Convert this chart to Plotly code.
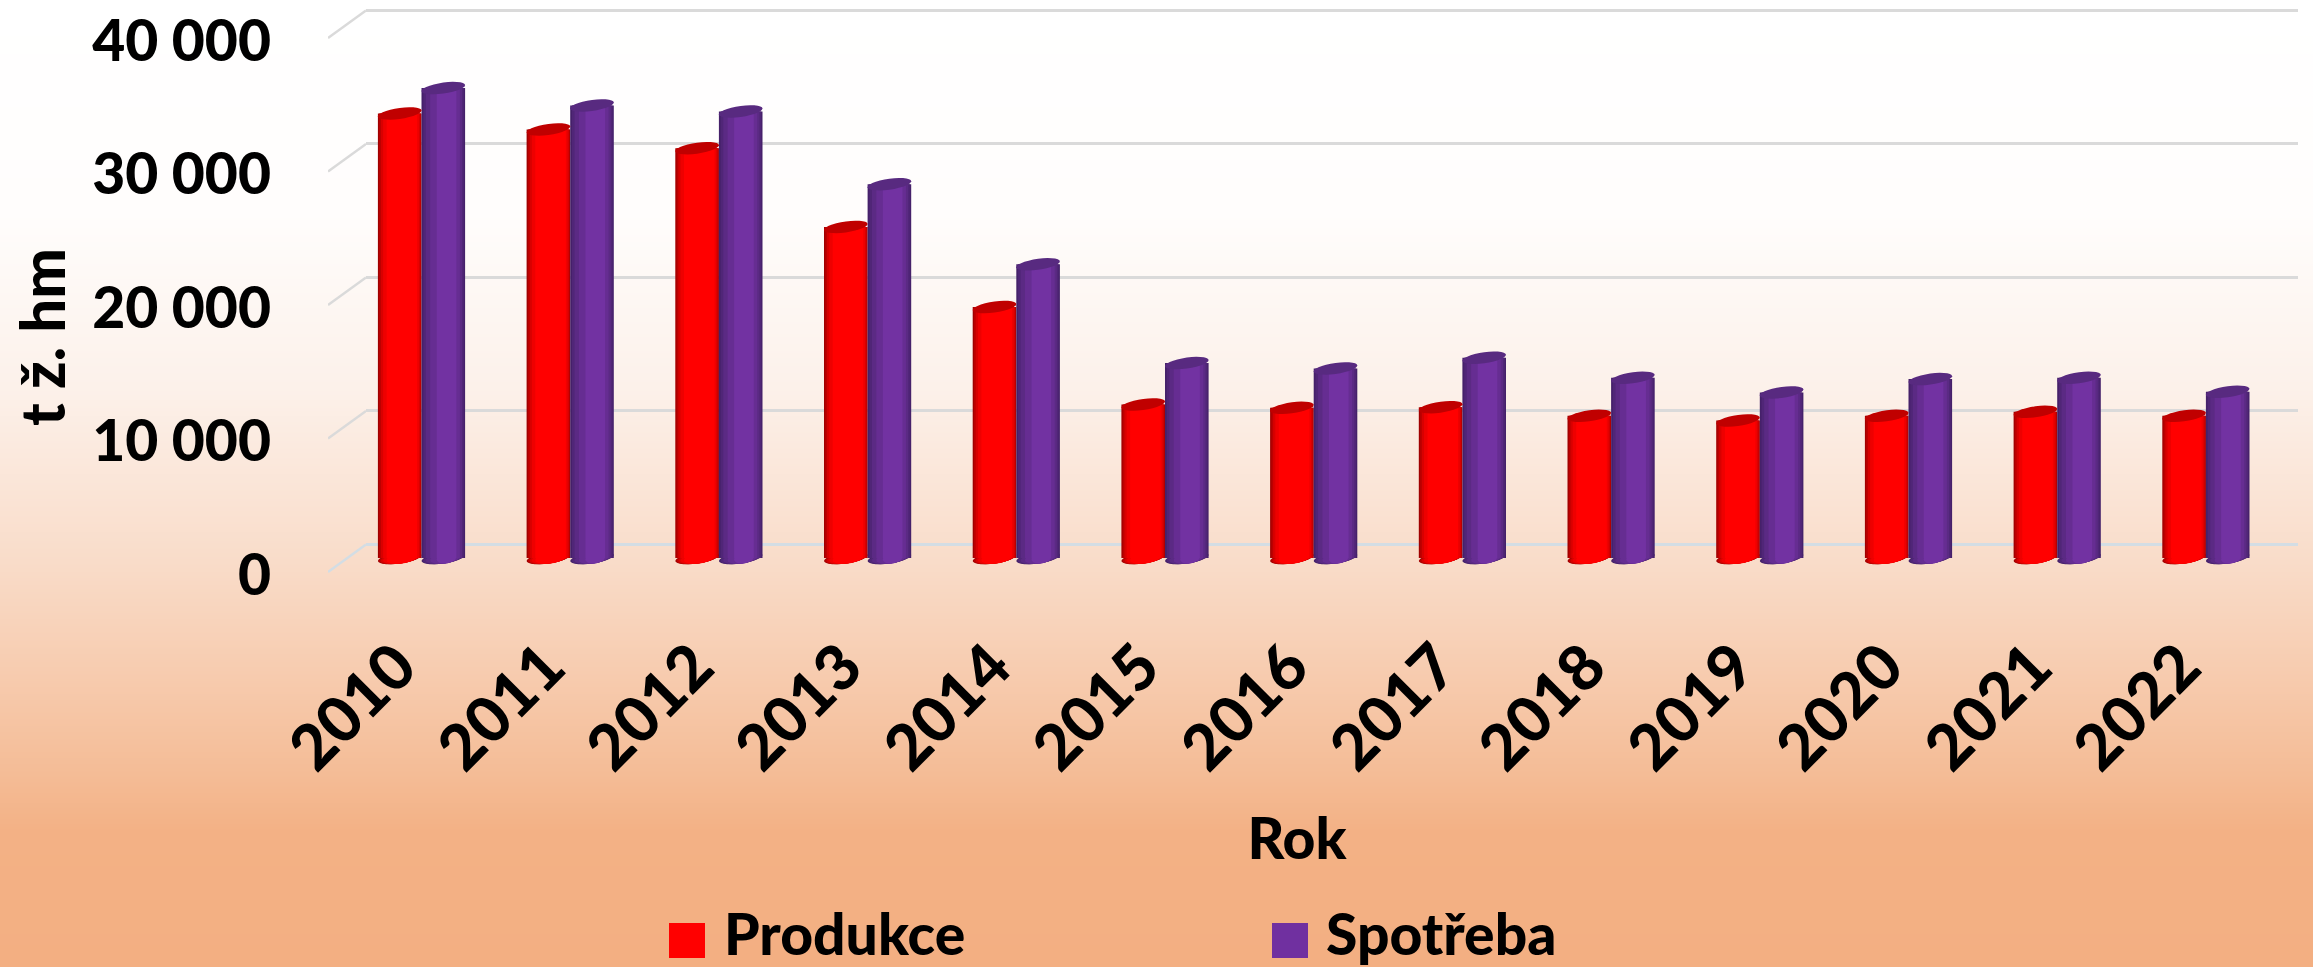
import math
import plotly.graph_objects as go

years = ["2010","2011","2012","2013","2014","2015","2016","2017","2018","2019","2020","2021","2022"]
produkce = [33300,32100,30700,24800,18800,11500,11250,11300,10650,10300,10650,10950,10650]
spotreba = [35200,33900,33450,28000,22000,14600,14200,15000,13500,12400,13400,13500,12450]
y_ticks = [0,10000,20000,30000,40000]
y_tick_labels = ["0","10 000","20 000","30 000","40 000"]

W, H = 2313, 967
FONT = "Lato"
WEIGHT = 900
BLACK = "#000000"
STEP = 148.7          # px per category
X0 = 421.5            # px of first category
BAR = 43.6 / STEP     # bar width in category units
DEPTH = 2060          # value equivalent of the floor depth
PX_PER_UNIT = 534/40000

RED_LAYERS = [(0,1,"#A00000"),(.03,.99,"#BC0000"),(.07,.97,"#D80000"),(.12,.94,"#EE0000"),(.2,.9,"#FF0000")]
PUR_LAYERS = [(0,1,"#45216A"),(.04,.97,"#502677"),(.1,.93,"#5B2A84"),(.2,.88,"#662D92"),(.35,.8,"#7232A2")]
RED_TOP, PUR_TOP = "#C00000", "#582A80"
GRID = "#DADADA"
ZERO = "#D3DDE4"

def dom_y(top_px, bottom_px):
    return [(H-bottom_px)/H, (H-top_px)/H]

def ellipse_path(rx, ry=5.5, tilt=3.0, n=28):
    pts = []
    for k in range(n):
        t = 2*math.pi*k/n
        pts.append((rx*math.cos(t), ry*math.sin(t)+tilt/22*rx*math.cos(t)))
    return "M " + " L ".join(f"{a:.2f},{b:.2f}" for a,b in pts) + " Z"

fig = go.Figure()

# background gradient (z runs 0 at the top of the page to 1 at the bottom)
fig.add_trace(go.Heatmap(
    z=[[0,0],[1,1]], x=[0,1], y=[0,1], xaxis="x", yaxis="y", zsmooth="best", showscale=False, hoverinfo="skip",
    zmin=0, zmax=1,
    colorscale=[[0,"#FFFFFF"],[.22,"#FFFDFC"],[.4,"#FCF1EA"],[.58,"#F9DCC9"],[.7,"#F7CBAE"],[.8,"#F4BC96"],[.86,"#F3B185"],[1,"#F3AF82"]],
))

# cylinders (nested bars give the shading)
idx = list(range(len(years)))
shapes = []
for name, vals, layers, top, start in [("Produkce",produkce,RED_LAYERS,RED_TOP,-BAR),("Spotřeba",spotreba,PUR_LAYERS,PUR_TOP,0)]:
    for j,(lo,hi,col) in enumerate(layers):
        fig.add_trace(go.Bar(
            x=idx, y=vals, name=name, xaxis="x3", yaxis="y3", showlegend=False,
            offset=start+lo*BAR, width=(hi-lo)*BAR, marker=dict(color=col, line=dict(width=0)),
        ))
    for i,v in enumerate(vals):
        for lo,hi,col in layers:
            shapes.append(dict(type="path", layer="between", xref="x3", yref="y3", xsizemode="pixel", ysizemode="pixel",
                               xanchor=i+start+(lo+hi)/2*BAR, yanchor=0,
                               path=ellipse_path((hi-lo)*BAR*STEP/2), fillcolor=col, line=dict(width=0)))
        shapes.append(dict(type="path", layer="above", xref="x3", yref="y3", xsizemode="pixel", ysizemode="pixel",
                           xanchor=i+start+BAR/2, yanchor=v,
                           path=ellipse_path(BAR*STEP/2), fillcolor=top, line=dict(width=0)))

# floor/wall connectors
for t in y_ticks:
    fig.add_trace(go.Scatter(x=[0,1], y=[t,t+DEPTH], xaxis="x4", yaxis="y4", mode="lines", showlegend=False, hoverinfo="skip",
                             cliponaxis=False, line=dict(color=ZERO if t==0 else GRID, width=2.5)))
# back wall grid carrier
fig.add_trace(go.Scatter(x=[0,1], y=[None,None], xaxis="x2", yaxis="y2", mode="lines", showlegend=False, hoverinfo="skip"))

# legend
legend_items = [("Produkce","#FF0000",669,705,722),("Spotřeba","#7030A0",1272,1308,1324)]
annotations = []
for label,col,x0,x1,tx in legend_items:
    shapes.append(dict(type="rect", xref="paper", yref="paper", x0=x0/W, x1=x1/W, y0=(H-958)/H, y1=(H-923)/H,
                       fillcolor=col, line=dict(width=0), layer="above"))
    annotations.append(dict(text=label, xref="paper", yref="paper", x=tx/W, y=(H-933)/H, xanchor="left", yanchor="middle",
                            showarrow=False, font=dict(family=FONT, size=57, color=BLACK, weight=WEIGHT)))
annotations.append(dict(text="t ž. hm", xref="paper", yref="paper", x=42/W, y=(H-337)/H, xanchor="center", yanchor="middle",
                        textangle=-90, showarrow=False, font=dict(family=FONT, size=60, color=BLACK, weight=WEIGHT)))

FLOOR_PAD = 14   # px kept under the zero plane so the cylinder bottoms are not clipped
WALL_PAD = 5
LABEL_PAD_TOP = 32     # room above the front axis for the top connector
LABEL_PAD_BOTTOM = 8   # room below it so the shifted "0" label stays in range
fig.update_layout(
    width=W, height=H, margin=dict(l=0,r=0,t=0,b=0,autoexpand=False), autosize=False,
    paper_bgcolor="rgba(0,0,0,0)", plot_bgcolor="rgba(0,0,0,0)",
    barmode="overlay", showlegend=False, shapes=shapes, annotations=annotations,
    xaxis=dict(domain=[0,1], range=[0,1], visible=False, fixedrange=True),
    yaxis=dict(domain=[0,1], range=[1,0], visible=False, fixedrange=True),
    xaxis2=dict(domain=[366/W,2298/W], range=[0,1], visible=False, anchor="y2"),
    yaxis2=dict(domain=dom_y(10.5-WALL_PAD,544), range=[0,40000+WALL_PAD/PX_PER_UNIT], anchor="x2", tickvals=y_ticks, showticklabels=False, ticks="",
                showgrid=True, gridcolor=GRID, gridwidth=2.5, zeroline=True, zerolinecolor=ZERO, zerolinewidth=2.5, showline=False),
    xaxis3=dict(domain=[281/W,1], range=[(281-X0)/STEP,(W-X0)/STEP], anchor="y3", tickmode="array", tickvals=idx, ticktext=years,
                tickangle=-45, showgrid=False, zeroline=False, showline=False, ticks="", ticklabelstandoff=44, ticklabelshift=-24,
                tickfont=dict(family=FONT, size=63, color=BLACK, weight=WEIGHT),
                title=dict(text="Rok", font=dict(family=FONT, size=57, color=BLACK, weight=WEIGHT), standoff=36)),
    yaxis3=dict(domain=dom_y(24,558+FLOOR_PAD), range=[-FLOOR_PAD/PX_PER_UNIT,40000], anchor="x3", showgrid=False, zeroline=False, showline=False, showticklabels=False, ticks=""),
    xaxis4=dict(domain=[328/W,366/W], range=[0,1], visible=False, anchor="y4"),
    yaxis4=dict(domain=dom_y(38-LABEL_PAD_TOP,572+LABEL_PAD_BOTTOM), range=[-LABEL_PAD_BOTTOM/PX_PER_UNIT,40000+LABEL_PAD_TOP/PX_PER_UNIT], anchor="x4",
                tickvals=y_ticks, ticktext=y_tick_labels, showgrid=False, zeroline=False,
                showline=False, ticks="", ticklabelstandoff=56, ticklabelshift=3, tickfont=dict(family=FONT, size=57, color=BLACK, weight=WEIGHT)),
)
fig.write_html("out.html", config={"displayModeBar": False},
               post_script="document.body.style.margin='0';document.documentElement.style.overflow='hidden';")
